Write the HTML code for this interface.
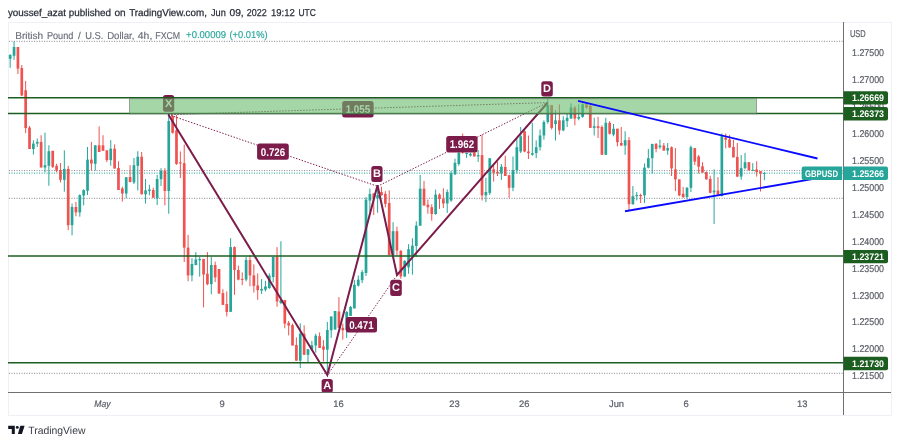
<!DOCTYPE html>
<html><head><meta charset="utf-8"><title>GBPUSD chart</title>
<style>
html,body{margin:0;padding:0;background:#fff;}
body{width:900px;height:445px;overflow:hidden;position:relative;}
svg{will-change:transform;text-rendering:geometricPrecision;position:absolute;left:0;top:0;display:block;font-family:"Liberation Sans",Arial,sans-serif;}
</style></head>
<body>
<svg width="900" height="445" viewBox="0 0 900 445">
<rect x="8.5" y="22.5" width="883" height="393" fill="#fff" stroke="#edf0f5" stroke-width="1"/>
<line x1="9" y1="41.3" x2="843" y2="41.3" stroke="#8a8d96" stroke-width="1" stroke-dasharray="1.1 1.4"/>
<line x1="9" y1="170.6" x2="843" y2="170.6" stroke="#8a8d96" stroke-width="1" stroke-dasharray="1.1 1.4"/>
<line x1="9" y1="198.3" x2="843" y2="198.3" stroke="#8a8d96" stroke-width="1" stroke-dasharray="1.1 1.4"/>
<line x1="9" y1="373.3" x2="843" y2="373.3" stroke="#8a8d96" stroke-width="1" stroke-dasharray="1.1 1.4"/>
<line x1="9" y1="173.1" x2="843" y2="173.1" stroke="#26a69a" stroke-width="1" stroke-dasharray="1.1 1.4"/>
<path d="M10.18 54.3V67.8 M14.05 41.4V59.9 M33.39 140.2V154.5 M37.25 138.5V147.0 M44.99 132.6V172.2 M48.86 145.3V185.8 M64.33 150.3V191.7 M72.06 203.6V235.3 M79.80 194.3V216.7 M83.67 189.3V205.3 M87.53 147.0V195.0 M95.27 145.3V170.6 M110.74 140.2V165.8 M126.21 177.0V198.2 M133.95 158.0V184.0 M137.81 151.2V190.5 M145.55 179.0V203.6 M149.42 184.7V195.2 M157.15 174.8V205.0 M161.02 168.2V186.0 M168.76 115.1V213.8 M191.96 258.2V281.3 M195.83 252.1V265.3 M199.70 256.9V276.7 M211.30 256.9V294.3 M230.64 238.2V311.8 M246.11 256.9V281.3 M261.58 279.1V294.0 M265.45 280.8V291.4 M269.32 273.4V288.9 M273.18 256.9V282.5 M280.92 241.3V304.2 M300.26 323.3V368.0 M307.99 349.2V362.4 M311.86 340.8V350.6 M315.73 333.7V352.6 M327.33 321.9V375.5 M331.20 316.5V337.9 M335.07 311.0V329.5 M346.67 311.0V337.9 M350.54 305.9V316.0 M354.41 280.2V308.4 M358.27 275.5V286.5 M362.14 270.1V283.1 M366.01 197.1V276.0 M369.88 188.5V212.0 M377.61 185.8V212.8 M393.08 222.2V255.0 M404.69 260.3V277.0 M408.55 244.2V273.8 M412.42 238.2V274.7 M416.29 221.3V257.0 M420.16 174.8V225.7 M435.63 189.5V214.8 M447.23 189.5V213.0 M451.10 171.0V201.8 M454.97 158.7V175.0 M458.83 150.0V165.8 M466.57 152.9V157.8 M470.44 152.9V156.5 M478.17 150.2V161.9 M485.91 177.7V202.1 M489.77 158.1V195.0 M501.38 164.0V179.9 M512.98 156.5V191.2 M516.85 138.8V173.5 M520.72 127.0V153.1 M532.32 122.8V155.7 M536.19 140.5V158.2 M540.05 129.5V150.6 M543.92 120.3V139.7 M547.79 98.8V123.7 M555.53 110.2V140.5 M563.26 116.1V131.2 M567.13 113.5V127.0 M571.00 103.4V118.6 M578.73 104.3V120.3 M582.60 103.4V117.8 M594.20 117.8V135.5 M605.81 117.8V154.8 M613.54 124.0V136.3 M625.14 131.2V154.8 M632.88 186.1V204.7 M636.75 192.0V200.5 M644.48 163.4V203.0 M648.35 148.9V168.4 M652.22 143.9V173.5 M659.95 139.7V148.9 M667.69 143.0V154.8 M687.03 187.0V198.8 M690.90 145.5V192.0 M714.10 169.4V224.0 M721.84 133.5V196.4 M741.18 155.1V179.8 M745.04 152.9V169.4 M752.78 163.1V171.2 M764.38 172.1V180.2" stroke="#26a69a" stroke-width="1" fill="none"/>
<path d="M17.92 47.0V74.0 M21.78 65.0V96.2 M25.65 81.0V133.0 M29.52 126.0V149.0 M41.12 135.2V167.5 M52.72 150.8V168.0 M56.59 163.8V172.2 M60.46 163.0V182.4 M68.20 165.8V230.2 M75.93 201.9V216.2 M91.40 141.9V170.6 M99.14 126.4V152.0 M103.00 135.2V150.8 M106.87 150.3V162.1 M114.61 144.4V168.5 M118.48 161.3V190.0 M122.34 186.7V201.6 M130.08 165.2V182.4 M141.68 152.0V194.3 M153.28 187.6V197.7 M164.89 168.2V205.3 M172.62 115.0V133.7 M176.49 115.1V164.8 M180.36 151.4V178.0 M184.23 144.6V262.0 M188.09 234.8V281.3 M203.57 258.9V307.4 M207.43 252.1V285.2 M215.17 261.6V282.1 M219.04 269.0V293.6 M222.90 289.2V304.9 M226.77 291.4V316.5 M234.51 246.4V294.8 M238.37 265.6V280.4 M242.24 272.4V285.2 M249.98 255.2V286.4 M253.85 264.4V292.6 M257.71 273.4V299.8 M277.05 247.1V306.7 M284.79 300.0V328.3 M288.65 321.0V335.4 M292.52 323.6V345.5 M296.39 337.4V360.7 M304.13 325.3V354.8 M319.60 332.4V348.0 M323.46 340.1V361.5 M338.93 297.1V327.8 M342.80 323.6V339.6 M373.74 193.4V215.0 M381.48 186.7V195.7 M385.35 191.2V207.4 M389.21 190.3V255.3 M396.95 226.6V255.3 M400.82 249.9V278.8 M424.02 181.0V205.5 M427.89 199.6V213.7 M431.76 204.2V220.7 M439.49 193.4V208.9 M443.36 188.3V208.0 M462.70 133.5V153.8 M474.30 152.0V156.5 M482.04 134.7V200.5 M493.64 165.0V181.6 M497.51 161.6V176.0 M505.25 155.7V176.0 M509.11 174.8V197.9 M524.58 130.5V152.3 M528.45 135.5V159.0 M551.66 105.1V129.6 M559.39 104.3V134.6 M574.86 106.0V125.3 M586.47 102.6V108.5 M590.33 105.0V127.9 M598.07 116.9V138.0 M601.94 125.3V154.8 M609.67 121.1V134.6 M617.41 128.7V146.4 M621.28 127.0V145.6 M629.01 137.1V209.7 M640.62 193.7V203.0 M656.09 143.0V152.3 M663.82 143.0V150.6 M671.56 146.4V176.0 M675.42 148.1V191.2 M679.29 179.4V196.2 M683.16 187.0V197.9 M694.76 148.1V165.0 M698.63 155.0V173.5 M702.50 162.2V172.6 M706.37 171.4V179.8 M710.23 175.7V193.3 M717.97 177.1V194.6 M725.70 133.5V148.4 M729.57 134.9V147.5 M733.44 139.8V157.4 M737.31 143.0V177.0 M748.91 162.2V170.3 M756.65 161.3V176.6 M760.51 171.2V191.5" stroke="#ef5350" stroke-width="1" fill="none"/>
<g fill="#26a69a"><rect x="8.83" y="54.9" width="2.7" height="3.9"/><rect x="12.70" y="47.0" width="2.7" height="8.8"/><rect x="32.04" y="143.6" width="2.7" height="5.4"/><rect x="35.90" y="141.9" width="2.7" height="1.7"/><rect x="43.64" y="165.2" width="2.7" height="2.3"/><rect x="47.51" y="151.2" width="2.7" height="14.6"/><rect x="62.98" y="168.9" width="2.7" height="10.9"/><rect x="70.71" y="207.0" width="2.7" height="18.2"/><rect x="78.45" y="195.2" width="2.7" height="17.2"/><rect x="82.32" y="190.1" width="2.7" height="5.4"/><rect x="86.18" y="159.6" width="2.7" height="31.2"/><rect x="93.92" y="145.3" width="2.7" height="18.5"/><rect x="109.39" y="148.7" width="2.7" height="11.4"/><rect x="124.86" y="177.3" width="2.7" height="16.2"/><rect x="132.60" y="165.2" width="2.7" height="17.2"/><rect x="136.46" y="156.7" width="2.7" height="9.1"/><rect x="144.20" y="190.4" width="2.7" height="3.9"/><rect x="148.07" y="189.5" width="2.7" height="1.5"/><rect x="155.80" y="179.0" width="2.7" height="19.5"/><rect x="159.67" y="170.7" width="2.7" height="8.5"/><rect x="167.41" y="121.0" width="2.7" height="70.0"/><rect x="190.61" y="264.0" width="2.7" height="11.4"/><rect x="194.48" y="259.4" width="2.7" height="5.6"/><rect x="198.35" y="258.9" width="2.7" height="1.3"/><rect x="209.95" y="265.0" width="2.7" height="19.2"/><rect x="229.29" y="247.1" width="2.7" height="64.7"/><rect x="244.76" y="259.9" width="2.7" height="19.7"/><rect x="260.23" y="288.9" width="2.7" height="1.7"/><rect x="264.10" y="286.4" width="2.7" height="3.3"/><rect x="267.97" y="275.7" width="2.7" height="12.3"/><rect x="271.83" y="256.9" width="2.7" height="20.2"/><rect x="279.57" y="300.0" width="2.7" height="3.0"/><rect x="298.91" y="333.7" width="2.7" height="27.0"/><rect x="306.64" y="349.2" width="2.7" height="5.6"/><rect x="310.51" y="345.2" width="2.7" height="4.0"/><rect x="314.38" y="335.7" width="2.7" height="9.8"/><rect x="325.98" y="330.0" width="2.7" height="19.7"/><rect x="329.85" y="316.5" width="2.7" height="13.8"/><rect x="333.72" y="311.0" width="2.7" height="18.5"/><rect x="345.32" y="312.0" width="2.7" height="18.0"/><rect x="349.19" y="307.0" width="2.7" height="9.0"/><rect x="353.06" y="284.8" width="2.7" height="23.6"/><rect x="356.92" y="279.7" width="2.7" height="5.9"/><rect x="360.79" y="272.1" width="2.7" height="8.1"/><rect x="364.66" y="199.6" width="2.7" height="73.4"/><rect x="368.53" y="193.9" width="2.7" height="6.7"/><rect x="376.26" y="195.2" width="2.7" height="3.2"/><rect x="391.73" y="231.2" width="2.7" height="23.8"/><rect x="403.34" y="260.8" width="2.7" height="15.7"/><rect x="407.20" y="249.2" width="2.7" height="18.1"/><rect x="411.07" y="245.6" width="2.7" height="9.8"/><rect x="414.94" y="225.6" width="2.7" height="20.4"/><rect x="418.81" y="188.7" width="2.7" height="37.0"/><rect x="434.28" y="194.6" width="2.7" height="19.4"/><rect x="445.88" y="192.0" width="2.7" height="11.5"/><rect x="449.75" y="173.1" width="2.7" height="27.4"/><rect x="453.62" y="162.8" width="2.7" height="11.5"/><rect x="457.48" y="152.9" width="2.7" height="11.1"/><rect x="465.22" y="152.9" width="2.7" height="1.1"/><rect x="469.09" y="153.8" width="2.7" height="1.8"/><rect x="476.82" y="155.1" width="2.7" height="1.4"/><rect x="484.56" y="192.0" width="2.7" height="3.4"/><rect x="488.42" y="158.2" width="2.7" height="34.7"/><rect x="500.03" y="166.7" width="2.7" height="6.8"/><rect x="511.63" y="170.1" width="2.7" height="17.7"/><rect x="515.50" y="147.2" width="2.7" height="22.9"/><rect x="519.37" y="136.3" width="2.7" height="15.2"/><rect x="530.97" y="153.1" width="2.7" height="1.7"/><rect x="534.84" y="147.2" width="2.7" height="5.9"/><rect x="538.70" y="135.5" width="2.7" height="11.7"/><rect x="542.57" y="122.0" width="2.7" height="13.5"/><rect x="546.44" y="105.1" width="2.7" height="16.9"/><rect x="554.18" y="120.3" width="2.7" height="3.7"/><rect x="561.91" y="120.3" width="2.7" height="10.1"/><rect x="565.78" y="117.8" width="2.7" height="3.3"/><rect x="569.65" y="107.6" width="2.7" height="11.0"/><rect x="577.38" y="116.9" width="2.7" height="1.7"/><rect x="581.25" y="104.3" width="2.7" height="12.6"/><rect x="592.85" y="126.2" width="2.7" height="1.7"/><rect x="604.46" y="122.8" width="2.7" height="32.0"/><rect x="612.19" y="128.7" width="2.7" height="5.9"/><rect x="623.79" y="140.2" width="2.7" height="5.4"/><rect x="631.53" y="196.2" width="2.7" height="8.0"/><rect x="635.40" y="195.0" width="2.7" height="1.2"/><rect x="643.13" y="167.6" width="2.7" height="27.8"/><rect x="647.00" y="158.2" width="2.7" height="9.4"/><rect x="650.87" y="143.9" width="2.7" height="14.3"/><rect x="658.60" y="145.6" width="2.7" height="1.6"/><rect x="666.34" y="148.1" width="2.7" height="2.5"/><rect x="685.68" y="187.8" width="2.7" height="9.3"/><rect x="689.55" y="147.2" width="2.7" height="40.6"/><rect x="712.75" y="190.6" width="2.7" height="1.8"/><rect x="720.49" y="136.2" width="2.7" height="59.8"/><rect x="739.83" y="168.1" width="2.7" height="8.5"/><rect x="743.69" y="162.2" width="2.7" height="5.9"/><rect x="751.43" y="169.9" width="2.7" height="1.0"/><rect x="763.03" y="172.9" width="2.7" height="1.0"/></g>
<g fill="#ef5350"><rect x="16.57" y="47.0" width="2.7" height="21.6"/><rect x="20.43" y="68.0" width="2.7" height="27.4"/><rect x="24.30" y="90.3" width="2.7" height="37.7"/><rect x="28.17" y="127.6" width="2.7" height="21.4"/><rect x="39.77" y="141.9" width="2.7" height="25.6"/><rect x="51.37" y="150.8" width="2.7" height="16.1"/><rect x="55.24" y="165.8" width="2.7" height="4.8"/><rect x="59.11" y="170.0" width="2.7" height="9.8"/><rect x="66.85" y="168.9" width="2.7" height="56.3"/><rect x="74.58" y="207.0" width="2.7" height="5.4"/><rect x="90.05" y="159.6" width="2.7" height="3.9"/><rect x="97.79" y="145.3" width="2.7" height="6.7"/><rect x="101.65" y="145.3" width="2.7" height="5.5"/><rect x="105.52" y="150.3" width="2.7" height="9.8"/><rect x="113.26" y="148.7" width="2.7" height="19.8"/><rect x="117.13" y="168.0" width="2.7" height="22.0"/><rect x="120.99" y="188.4" width="2.7" height="5.1"/><rect x="128.73" y="177.0" width="2.7" height="5.0"/><rect x="140.33" y="156.7" width="2.7" height="37.6"/><rect x="151.93" y="190.0" width="2.7" height="7.7"/><rect x="163.54" y="170.7" width="2.7" height="20.3"/><rect x="171.27" y="116.0" width="2.7" height="16.8"/><rect x="175.14" y="130.3" width="2.7" height="33.7"/><rect x="179.01" y="162.3" width="2.7" height="1.1"/><rect x="182.88" y="163.2" width="2.7" height="84.4"/><rect x="186.74" y="247.6" width="2.7" height="27.8"/><rect x="202.22" y="258.9" width="2.7" height="15.7"/><rect x="206.08" y="273.7" width="2.7" height="10.5"/><rect x="213.82" y="265.0" width="2.7" height="12.4"/><rect x="217.69" y="269.0" width="2.7" height="24.6"/><rect x="221.55" y="293.1" width="2.7" height="11.8"/><rect x="225.42" y="304.0" width="2.7" height="8.0"/><rect x="233.16" y="247.1" width="2.7" height="22.9"/><rect x="237.02" y="270.0" width="2.7" height="9.6"/><rect x="240.89" y="278.9" width="2.7" height="1.0"/><rect x="248.63" y="259.9" width="2.7" height="15.5"/><rect x="252.50" y="275.4" width="2.7" height="10.4"/><rect x="256.36" y="285.5" width="2.7" height="4.7"/><rect x="275.70" y="256.9" width="2.7" height="44.6"/><rect x="283.44" y="300.0" width="2.7" height="23.6"/><rect x="287.30" y="322.8" width="2.7" height="2.8"/><rect x="291.17" y="325.0" width="2.7" height="20.5"/><rect x="295.04" y="345.0" width="2.7" height="15.7"/><rect x="302.78" y="333.7" width="2.7" height="21.1"/><rect x="318.25" y="336.2" width="2.7" height="11.8"/><rect x="322.11" y="346.4" width="2.7" height="3.3"/><rect x="337.58" y="311.5" width="2.7" height="16.3"/><rect x="341.45" y="327.8" width="2.7" height="2.5"/><rect x="372.39" y="193.4" width="2.7" height="5.0"/><rect x="380.13" y="192.0" width="2.7" height="3.2"/><rect x="384.00" y="193.9" width="2.7" height="9.9"/><rect x="387.86" y="203.0" width="2.7" height="52.0"/><rect x="395.60" y="231.2" width="2.7" height="19.3"/><rect x="399.47" y="250.9" width="2.7" height="25.6"/><rect x="422.67" y="188.7" width="2.7" height="16.8"/><rect x="426.54" y="204.7" width="2.7" height="2.5"/><rect x="430.41" y="207.2" width="2.7" height="6.8"/><rect x="438.14" y="194.6" width="2.7" height="4.5"/><rect x="442.01" y="199.1" width="2.7" height="4.4"/><rect x="461.35" y="148.0" width="2.7" height="4.5"/><rect x="472.95" y="152.9" width="2.7" height="3.6"/><rect x="480.69" y="155.1" width="2.7" height="40.3"/><rect x="492.29" y="169.3" width="2.7" height="3.3"/><rect x="496.16" y="171.8" width="2.7" height="1.7"/><rect x="503.90" y="167.0" width="2.7" height="9.0"/><rect x="507.76" y="175.2" width="2.7" height="12.6"/><rect x="523.23" y="131.2" width="2.7" height="20.3"/><rect x="527.10" y="151.5" width="2.7" height="1.6"/><rect x="550.31" y="105.1" width="2.7" height="22.8"/><rect x="558.04" y="120.3" width="2.7" height="10.1"/><rect x="573.51" y="107.6" width="2.7" height="11.0"/><rect x="585.12" y="104.3" width="2.7" height="3.3"/><rect x="588.98" y="106.0" width="2.7" height="21.9"/><rect x="596.72" y="126.2" width="2.7" height="1.7"/><rect x="600.59" y="127.0" width="2.7" height="27.8"/><rect x="608.32" y="122.8" width="2.7" height="11.0"/><rect x="616.06" y="128.7" width="2.7" height="13.5"/><rect x="619.93" y="143.0" width="2.7" height="2.6"/><rect x="627.66" y="140.2" width="2.7" height="64.0"/><rect x="639.27" y="195.0" width="2.7" height="1.2"/><rect x="654.74" y="143.9" width="2.7" height="5.0"/><rect x="662.47" y="145.6" width="2.7" height="5.0"/><rect x="670.21" y="147.2" width="2.7" height="21.2"/><rect x="674.07" y="169.3" width="2.7" height="10.1"/><rect x="677.94" y="179.4" width="2.7" height="16.0"/><rect x="681.81" y="193.7" width="2.7" height="3.4"/><rect x="693.41" y="148.1" width="2.7" height="13.5"/><rect x="697.28" y="156.5" width="2.7" height="10.2"/><rect x="701.15" y="166.3" width="2.7" height="6.3"/><rect x="705.02" y="172.1" width="2.7" height="7.2"/><rect x="708.88" y="178.9" width="2.7" height="13.9"/><rect x="716.62" y="190.6" width="2.7" height="4.0"/><rect x="724.35" y="137.6" width="2.7" height="2.2"/><rect x="728.22" y="139.4" width="2.7" height="8.1"/><rect x="732.09" y="147.0" width="2.7" height="10.4"/><rect x="735.96" y="156.9" width="2.7" height="19.7"/><rect x="747.56" y="162.2" width="2.7" height="8.1"/><rect x="755.30" y="169.4" width="2.7" height="2.7"/><rect x="759.16" y="171.2" width="2.7" height="2.3"/></g>
<line x1="168.3" y1="114.6" x2="377.5" y2="186.3" stroke="#7b1c4b" stroke-width="1" stroke-dasharray="1.4 1.6"/>
<line x1="327.3" y1="375.2" x2="395.5" y2="277.3" stroke="#7b1c4b" stroke-width="1" stroke-dasharray="1.4 1.6"/>
<line x1="377.5" y1="186.3" x2="547.3" y2="102.6" stroke="#7b1c4b" stroke-width="1" stroke-dasharray="1.4 1.6"/>
<line x1="168.3" y1="114.6" x2="547.3" y2="102.6" stroke="#7b1c4b" stroke-width="1" stroke-dasharray="1.4 1.6"/>
<polyline points="168.3,114.6 327.3,375.0 377.5,185.2 397.0,275.0 547.3,103.0" fill="none" stroke="#7b1c4b" stroke-width="2" stroke-linejoin="miter" stroke-miterlimit="3"/>
<rect x="163" y="95.1" width="11.2" height="16.6" rx="2.5" fill="#7b1c4b"/><text x="168.6" y="106.6" text-anchor="middle" font-size="11.0" font-weight="bold" fill="#fff">X</text>
<rect x="321.6" y="378.9" width="11.2" height="13.9" rx="2.5" fill="#7b1c4b"/><text x="327.2" y="389.1" text-anchor="middle" font-size="11.0" font-weight="bold" fill="#fff">A</text>
<rect x="371.3" y="166.1" width="11.2" height="15.9" rx="2.5" fill="#7b1c4b"/><text x="376.9" y="177.2" text-anchor="middle" font-size="11.0" font-weight="bold" fill="#fff">B</text>
<rect x="390.2" y="279.8" width="11.6" height="16.3" rx="2.5" fill="#7b1c4b"/><text x="396.0" y="291.2" text-anchor="middle" font-size="11.0" font-weight="bold" fill="#fff">C</text>
<rect x="541.3" y="81.2" width="11.5" height="15.4" rx="2.5" fill="#7b1c4b"/><text x="547.0" y="92.1" text-anchor="middle" font-size="11.0" font-weight="bold" fill="#fff">D</text>
<rect x="257.1" y="143.5" width="31.7" height="16.2" rx="2.5" fill="#7b1c4b"/><text x="273.0" y="155.5" text-anchor="middle" font-size="11.2" font-weight="bold" fill="#fff" textLength="24.5" lengthAdjust="spacingAndGlyphs">0.726</text>
<rect x="345.9" y="317" width="31.1" height="15.4" rx="2.5" fill="#7b1c4b"/><text x="361.4" y="328.6" text-anchor="middle" font-size="11.2" font-weight="bold" fill="#fff" textLength="24.5" lengthAdjust="spacingAndGlyphs">0.471</text>
<rect x="446.2" y="136" width="31.4" height="16.4" rx="2.5" fill="#7b1c4b"/><text x="461.9" y="148.1" text-anchor="middle" font-size="11.2" font-weight="bold" fill="#fff" textLength="24.5" lengthAdjust="spacingAndGlyphs">1.962</text>
<rect x="342.2" y="101.1" width="31.4" height="16.5" rx="2.5" fill="#7b1c4b"/><text x="357.9" y="113.2" text-anchor="middle" font-size="11.2" font-weight="bold" fill="#fff" textLength="24.5" lengthAdjust="spacingAndGlyphs">1.055</text>
<line x1="8" y1="97.7" x2="843" y2="97.7" stroke="#1b5e20" stroke-width="1.5"/>
<line x1="8" y1="113.4" x2="843" y2="113.4" stroke="#1b5e20" stroke-width="1.5"/>
<line x1="8" y1="256.0" x2="843" y2="256.0" stroke="#1b5e20" stroke-width="1.5"/>
<line x1="8" y1="362.8" x2="843" y2="362.8" stroke="#1b5e20" stroke-width="1.5"/>
<rect x="129.5" y="98.6" width="627" height="15.2" fill="rgba(105,187,108,0.6)" stroke="rgba(100,100,100,0.55)" stroke-width="1"/>
<line x1="578.0" y1="100.8" x2="817.5" y2="158.5" stroke="#0a0aff" stroke-width="1.9"/>
<line x1="625.0" y1="211.2" x2="815.0" y2="178.6" stroke="#0a0aff" stroke-width="1.9"/>
<line x1="843.5" y1="22" x2="843.5" y2="415" stroke="#707070" stroke-width="1"/>
<line x1="8" y1="392.5" x2="891" y2="392.5" stroke="#707070" stroke-width="1"/>
<text x="850" y="36.8" font-size="9.9" fill="#5a5d66" stroke="#5a5d66" stroke-width="0.2" textLength="15.7" lengthAdjust="spacingAndGlyphs">USD</text>
<text x="884" y="56.1" text-anchor="end" font-size="9.9" fill="#5a5d66" stroke="#5a5d66" stroke-width="0.2" textLength="32" lengthAdjust="spacingAndGlyphs">1.27500</text>
<text x="884" y="83.0" text-anchor="end" font-size="9.9" fill="#5a5d66" stroke="#5a5d66" stroke-width="0.2" textLength="32" lengthAdjust="spacingAndGlyphs">1.27000</text>
<text x="884" y="110.0" text-anchor="end" font-size="9.9" fill="#5a5d66" stroke="#5a5d66" stroke-width="0.2" textLength="32" lengthAdjust="spacingAndGlyphs">1.26500</text>
<text x="884" y="136.9" text-anchor="end" font-size="9.9" fill="#5a5d66" stroke="#5a5d66" stroke-width="0.2" textLength="32" lengthAdjust="spacingAndGlyphs">1.26000</text>
<text x="884" y="163.8" text-anchor="end" font-size="9.9" fill="#5a5d66" stroke="#5a5d66" stroke-width="0.2" textLength="32" lengthAdjust="spacingAndGlyphs">1.25500</text>
<text x="884" y="190.8" text-anchor="end" font-size="9.9" fill="#5a5d66" stroke="#5a5d66" stroke-width="0.2" textLength="32" lengthAdjust="spacingAndGlyphs">1.25000</text>
<text x="884" y="217.7" text-anchor="end" font-size="9.9" fill="#5a5d66" stroke="#5a5d66" stroke-width="0.2" textLength="32" lengthAdjust="spacingAndGlyphs">1.24500</text>
<text x="884" y="244.6" text-anchor="end" font-size="9.9" fill="#5a5d66" stroke="#5a5d66" stroke-width="0.2" textLength="32" lengthAdjust="spacingAndGlyphs">1.24000</text>
<text x="884" y="271.6" text-anchor="end" font-size="9.9" fill="#5a5d66" stroke="#5a5d66" stroke-width="0.2" textLength="32" lengthAdjust="spacingAndGlyphs">1.23500</text>
<text x="884" y="298.5" text-anchor="end" font-size="9.9" fill="#5a5d66" stroke="#5a5d66" stroke-width="0.2" textLength="32" lengthAdjust="spacingAndGlyphs">1.23000</text>
<text x="884" y="325.4" text-anchor="end" font-size="9.9" fill="#5a5d66" stroke="#5a5d66" stroke-width="0.2" textLength="32" lengthAdjust="spacingAndGlyphs">1.22500</text>
<text x="884" y="352.4" text-anchor="end" font-size="9.9" fill="#5a5d66" stroke="#5a5d66" stroke-width="0.2" textLength="32" lengthAdjust="spacingAndGlyphs">1.22000</text>
<text x="884" y="379.3" text-anchor="end" font-size="9.9" fill="#5a5d66" stroke="#5a5d66" stroke-width="0.2" textLength="32" lengthAdjust="spacingAndGlyphs">1.21500</text>
<path d="M843.5 91.2H886a2 2 0 0 1 2 2V102.6a2 2 0 0 1 -2 2H843.5Z" fill="#1b5e20"/><text x="884" y="101.3" text-anchor="end" font-size="9.6" font-weight="bold" fill="#fff" textLength="32" lengthAdjust="spacingAndGlyphs">1.26669</text>
<path d="M843.5 107.1H886a2 2 0 0 1 2 2V118.5a2 2 0 0 1 -2 2H843.5Z" fill="#1b5e20"/><text x="884" y="117.2" text-anchor="end" font-size="9.6" font-weight="bold" fill="#fff" textLength="32" lengthAdjust="spacingAndGlyphs">1.26373</text>
<path d="M843.5 249.9H886a2 2 0 0 1 2 2V261.3a2 2 0 0 1 -2 2H843.5Z" fill="#1b5e20"/><text x="884" y="260.0" text-anchor="end" font-size="9.6" font-weight="bold" fill="#fff" textLength="32" lengthAdjust="spacingAndGlyphs">1.23721</text>
<path d="M843.5 356.8H886a2 2 0 0 1 2 2V368.2a2 2 0 0 1 -2 2H843.5Z" fill="#1b5e20"/><text x="884" y="366.9" text-anchor="end" font-size="9.6" font-weight="bold" fill="#fff" textLength="32" lengthAdjust="spacingAndGlyphs">1.21730</text>
<path d="M843.5 166.5H886a2 2 0 0 1 2 2V177.9a2 2 0 0 1 -2 2H843.5Z" fill="#26a69a"/><text x="884" y="176.6" text-anchor="end" font-size="9.6" font-weight="bold" fill="#fff" textLength="32" lengthAdjust="spacingAndGlyphs">1.25266</text>
<path d="M803.7 166.4H842.2V180H803.7a2 2 0 0 1 -2 -2V168.4a2 2 0 0 1 2 -2Z" fill="#26a69a"/>
<text x="821.5" y="176.6" text-anchor="middle" font-size="9.6" font-weight="bold" fill="#fff" textLength="33" lengthAdjust="spacingAndGlyphs">GBPUSD</text>
<text x="102.4" y="406.8" text-anchor="middle" font-size="9.4" fill="#5a5d66" stroke="#5a5d66" stroke-width="0.2" font-style="italic" textLength="16.2" lengthAdjust="spacingAndGlyphs">May</text>
<text x="222.2" y="406.8" text-anchor="middle" font-size="9.4" fill="#5a5d66" stroke="#5a5d66" stroke-width="0.2">9</text>
<text x="338.4" y="406.8" text-anchor="middle" font-size="9.4" fill="#5a5d66" stroke="#5a5d66" stroke-width="0.2">16</text>
<text x="454.5" y="406.8" text-anchor="middle" font-size="9.4" fill="#5a5d66" stroke="#5a5d66" stroke-width="0.2">23</text>
<text x="524.2" y="406.8" text-anchor="middle" font-size="9.4" fill="#5a5d66" stroke="#5a5d66" stroke-width="0.2">26</text>
<text x="616.5" y="406.8" text-anchor="middle" font-size="9.4" fill="#5a5d66" stroke="#5a5d66" stroke-width="0.2">Jun</text>
<text x="686" y="406.8" text-anchor="middle" font-size="9.4" fill="#5a5d66" stroke="#5a5d66" stroke-width="0.2">6</text>
<text x="802.2" y="406.8" text-anchor="middle" font-size="9.4" fill="#5a5d66" stroke="#5a5d66" stroke-width="0.2">13</text>
<text x="7.9" y="15.8" font-size="10" fill="#2a2e39" textLength="58.0" lengthAdjust="spacingAndGlyphs" stroke="#2a2e39" stroke-width="0.25">youssef_azat</text><text x="68.8" y="15.8" font-size="10" fill="#2a2e39" textLength="42.3" lengthAdjust="spacingAndGlyphs" stroke="#2a2e39" stroke-width="0.25">published</text><text x="114.5" y="15.8" font-size="10" fill="#2a2e39" textLength="11.2" lengthAdjust="spacingAndGlyphs" stroke="#2a2e39" stroke-width="0.25">on</text><text x="129.2" y="15.8" font-size="10" fill="#2a2e39" textLength="77.8" lengthAdjust="spacingAndGlyphs" stroke="#2a2e39" stroke-width="0.25">TradingView.com,</text><text x="211.0" y="15.8" font-size="10" fill="#2a2e39" textLength="14.8" lengthAdjust="spacingAndGlyphs" stroke="#2a2e39" stroke-width="0.25">Jun</text><text x="229.5" y="15.8" font-size="10" fill="#2a2e39" textLength="14.2" lengthAdjust="spacingAndGlyphs" stroke="#2a2e39" stroke-width="0.25">09,</text><text x="246.8" y="15.8" font-size="10" fill="#2a2e39" textLength="19.9" lengthAdjust="spacingAndGlyphs" stroke="#2a2e39" stroke-width="0.25">2022</text><text x="271.0" y="15.8" font-size="10" fill="#2a2e39" textLength="23.8" lengthAdjust="spacingAndGlyphs" stroke="#2a2e39" stroke-width="0.25">19:12</text><text x="298.5" y="15.8" font-size="10" fill="#2a2e39" textLength="17.4" lengthAdjust="spacingAndGlyphs" stroke="#2a2e39" stroke-width="0.25">UTC</text>
<text x="15.2" y="38.5" font-size="10" fill="#6a6d78" textLength="28.0" lengthAdjust="spacingAndGlyphs" stroke="#6a6d78" stroke-width="0.15">British</text><text x="46.9" y="38.5" font-size="10" fill="#6a6d78" textLength="26.5" lengthAdjust="spacingAndGlyphs" stroke="#6a6d78" stroke-width="0.15">Pound</text><text x="78.0" y="38.5" font-size="10" fill="#6a6d78" stroke="#6a6d78" stroke-width="0.15">/</text><text x="85.3" y="38.5" font-size="10" fill="#6a6d78" textLength="18.1" lengthAdjust="spacingAndGlyphs" stroke="#6a6d78" stroke-width="0.15">U.S.</text><text x="107.2" y="38.5" font-size="10" fill="#6a6d78" textLength="27.2" lengthAdjust="spacingAndGlyphs" stroke="#6a6d78" stroke-width="0.15">Dollar,</text><text x="137.8" y="38.5" font-size="10" fill="#6a6d78" textLength="14.5" lengthAdjust="spacingAndGlyphs" stroke="#6a6d78" stroke-width="0.15">4h,</text><text x="155.3" y="38.5" font-size="10" fill="#6a6d78" textLength="24.9" lengthAdjust="spacingAndGlyphs" stroke="#6a6d78" stroke-width="0.15">FXCM</text>
<text x="186.1" y="38.2" font-size="10" fill="#26a69a" textLength="39.9" lengthAdjust="spacingAndGlyphs" stroke="#26a69a" stroke-width="0.15">+0.00009</text><text x="229.5" y="38.2" font-size="10" fill="#26a69a" textLength="38.1" lengthAdjust="spacingAndGlyphs" stroke="#26a69a" stroke-width="0.15">(+0.01%)</text>
<g fill="#131722"><path d="M8.2 425.7H14.8V433.9H11.8V429H8.2Z"/><circle cx="17.3" cy="427.4" r="1.45"/><path d="M20.3 425.8H24.6L21.9 433.9H17.9Z"/></g>
<text x="28.2" y="433.6" font-size="10.6" fill="#3a3d47" textLength="57.3" lengthAdjust="spacingAndGlyphs">TradingView</text>
</svg>
</body></html>
